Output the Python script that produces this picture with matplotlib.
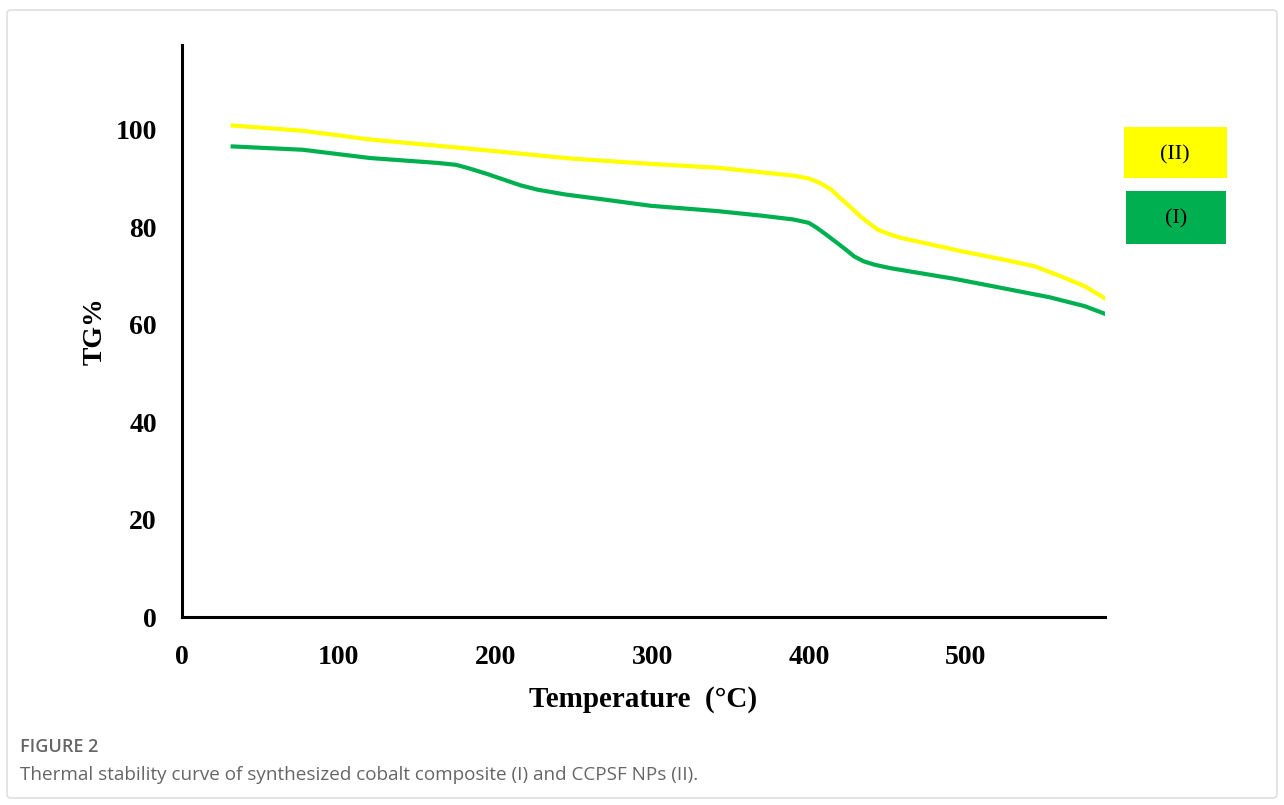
import matplotlib.pyplot as plt
from matplotlib.patches import Rectangle, FancyBboxPatch

# 温度 (°C) 与 TG% 读数
temp_II = [31, 77, 120, 184, 248, 299, 342, 369, 390, 400, 407, 414, 420, 427, 433, 439, 444,
           452, 459, 476, 497, 522, 544, 561, 576, 590]
tg_II = [100.9, 99.8, 98.0, 96.1, 94.1, 93.0, 92.2, 91.3, 90.6, 90.0, 89.1, 87.8, 86.0, 84.0,
         82.2, 80.7, 79.5, 78.5, 77.8, 76.6, 75.1, 73.5, 72.0, 69.9, 67.9, 65.2]

temp_I = [31, 77, 120, 163, 175, 184, 195, 205, 216, 227, 245, 269, 299, 342, 369, 390, 400,
          405, 411, 418, 424, 429, 435, 442, 452, 465, 493, 522, 554, 576, 590]
tg_I = [96.6, 95.9, 94.2, 93.2, 92.8, 92.0, 90.9, 89.8, 88.6, 87.7, 86.7, 85.7, 84.4, 83.3,
        82.4, 81.6, 80.9, 79.9, 78.5, 76.8, 75.3, 74.0, 73.0, 72.3, 71.6, 70.9, 69.4, 67.6,
        65.6, 63.8, 62.1]

xticks = [0, 100, 200, 300, 400, 500]
yticks = [0, 20, 40, 60, 80, 100]

serif = ['Liberation Serif', 'DejaVu Serif']
sans = ['Open Sans', 'DejaVu Sans']

fig = plt.figure(figsize=(12.84, 8.05), dpi=100)

# 外框
fig.patches.append(FancyBboxPatch((7 / 1284, 1 - 798 / 805), 1270 / 1284, 788 / 805,
                                  boxstyle='round,pad=0,rounding_size=0.004',
                                  transform=fig.transFigure, fill=False,
                                  edgecolor='#d9d9d9', linewidth=1))

ax = fig.add_axes([182 / 1284, 1 - 617 / 805, (1105 - 182) / 1284, (617 - 45) / 805])
ax.plot(temp_II, tg_II, color='#FFFF00', linewidth=3, solid_capstyle='butt')
ax.plot(temp_I, tg_I, color='#00B050', linewidth=3, solid_capstyle='butt')

ax.set_xlim(0, 589)
ax.set_ylim(0, 117.4)
ax.set_xticks(xticks)
ax.set_yticks(yticks)
ax.tick_params(length=0)
ax.tick_params(axis='x', pad=20)
ax.tick_params(axis='y', pad=18)
for lab in ax.get_xticklabels() + ax.get_yticklabels():
    lab.set_family(serif)
    lab.set_fontweight('bold')
    lab.set_fontsize(20)

for s in ['top', 'right']:
    ax.spines[s].set_visible(False)
for s in ['left', 'bottom']:
    ax.spines[s].set_linewidth(2.2)
    ax.spines[s].set_color('black')

ax.set_xlabel('Temperature  (°C)', family=serif, fontweight='bold', fontsize=21, labelpad=12)
ax.set_ylabel('TG%', family=serif, fontweight='bold', fontsize=20, labelpad=6)

# 图例方块
fig.patches.append(Rectangle((1124 / 1284, 1 - 178 / 805), 103 / 1284, 51 / 805,
                             transform=fig.transFigure, facecolor='#FFFF00', edgecolor='none'))
fig.text(1175 / 1284, 1 - 155 / 805, '(II)', family=serif, fontsize=16, ha='center', va='center')
fig.patches.append(Rectangle((1126 / 1284, 1 - 244 / 805), 100 / 1284, 53 / 805,
                             transform=fig.transFigure, facecolor='#00B050', edgecolor='none'))
fig.text(1176 / 1284, 1 - 219 / 805, '(I)', family=serif, fontsize=16, ha='center', va='center')

# 图注
fig.text(20 / 1284, 1 - 747 / 805, 'FIGURE 2', family=sans, fontweight='semibold',
         fontsize=13, color='#666666', va='center')
fig.text(20 / 1284, 1 - 775 / 805,
         'Thermal stability curve of synthesized cobalt composite (I) and CCPSF NPs (II).',
         family=sans, fontsize=13.6, color='#666666', va='center')

fig.savefig('out.png', dpi=100)
